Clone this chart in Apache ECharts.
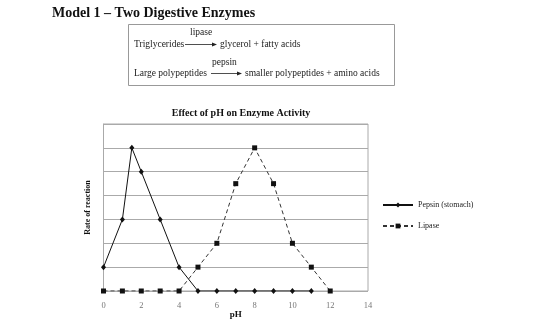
<!DOCTYPE html>
<html>
<head>
<meta charset="utf-8">
<script src="https://cdn.jsdelivr.net/npm/echarts@6/dist/echarts.min.js"></script>
<style>
  html, body { margin: 0; padding: 0; background: #fff; }
  #chart { width: 560px; height: 322px; }
</style>
</head>
<body>
<div id="chart"></div>
<script>
// data
var pepsinPH = [0, 1, 1.5, 2, 3, 4, 5, 6, 7, 8, 9, 10, 11];
var pepsinRate = [1, 3, 6, 5, 3, 1, 0, 0, 0, 0, 0, 0, 0];
var lipasePH = [0, 1, 2, 3, 4, 5, 6, 7, 8, 9, 10, 11, 12];
var lipaseRate = [0, 0, 0, 0, 0, 1, 2, 4.5, 6, 4.5, 2, 1, 0];

var seriesNames = ['Pepsin (stomach)', 'Lipase'];

var serif = '"Liberation Serif", "DejaVu Serif", serif';

function zip(xs, ys) {
  return xs.map(function (x, i) { return [x, ys[i]]; });
}

var chart = echarts.init(document.getElementById('chart'));

// header + reaction box (decoration)
var graphics = [
  { type: 'text', left: 52, top: 6,
    style: { text: 'Model 1 \u2013 Two Digestive Enzymes', font: 'bold 14px ' + serif, fill: '#111' } },
  { type: 'rect', shape: { x: 128.5, y: 24.5, width: 266, height: 61 },
    style: { fill: 'none', stroke: '#999', lineWidth: 1 } },
  { type: 'text', x: 134, y: 44, style: { text: 'Triglycerides', font: '9.5px ' + serif, fill: '#222', textVerticalAlign: 'middle' } },
  { type: 'text', x: 190, y: 32, style: { text: 'lipase', font: '9.5px ' + serif, fill: '#222', textVerticalAlign: 'middle' } },
  { type: 'line', shape: { x1: 185, y1: 44.5, x2: 214, y2: 44.5 }, style: { stroke: '#222', lineWidth: 0.8 } },
  { type: 'polygon', shape: { points: [[217, 44.5], [212, 42.5], [212, 46.5]] }, style: { fill: '#222' } },
  { type: 'text', x: 220, y: 44, style: { text: 'glycerol + fatty acids', font: '9.5px ' + serif, fill: '#222', textVerticalAlign: 'middle' } },
  { type: 'text', x: 134, y: 73, style: { text: 'Large polypeptides', font: '9.5px ' + serif, fill: '#222', textVerticalAlign: 'middle' } },
  { type: 'text', x: 212, y: 62, style: { text: 'pepsin', font: '9.5px ' + serif, fill: '#222', textVerticalAlign: 'middle' } },
  { type: 'line', shape: { x1: 211, y1: 73.5, x2: 239, y2: 73.5 }, style: { stroke: '#222', lineWidth: 0.8 } },
  { type: 'polygon', shape: { points: [[242, 73.5], [237, 71.5], [237, 75.5]] }, style: { fill: '#222' } },
  { type: 'text', x: 245, y: 73, style: { text: 'smaller polypeptides + amino acids', font: '9.5px ' + serif, fill: '#222', textVerticalAlign: 'middle' } }
];

var option = {
  animation: false,
  backgroundColor: '#fff',
  title: {
    text: 'Effect of pH on Enzyme Activity',
    left: 236,
    textAlign: 'center',
    top: 103,
    textStyle: { fontFamily: serif, fontWeight: 'bold', fontSize: 10, color: '#111' }
  },
  graphic: graphics,
  legend: {
    data: seriesNames,
    orient: 'vertical',
    left: 382,
    top: 201,
    padding: 0,
    itemWidth: 30,
    itemHeight: 6,
    itemGap: 13,
    textStyle: { fontFamily: serif, fontSize: 8, color: '#222' }
  },
  grid: {
    left: 103.5,
    right: 192,
    top: 124,
    bottom: 31,
    outerBoundsMode: 'none',
    show: true,
    borderColor: '#aaa',
    borderWidth: 1
  },
  xAxis: {
    type: 'value',
    min: 0,
    max: 14,
    interval: 2,
    name: 'pH',
    nameLocation: 'middle',
    nameGap: 24,
    nameMoveOverlap: false,
    nameTextStyle: { fontFamily: serif, fontWeight: 'bold', fontSize: 9, color: '#111', verticalAlign: 'middle' },
    axisLine: { show: false },
    axisTick: { show: false },
    splitLine: { show: false },
    axisLabel: { fontFamily: serif, fontSize: 8.5, color: '#777', margin: 10 }
  },
  yAxis: {
    type: 'value',
    min: 0,
    max: 7,
    interval: 1,
    name: 'Rate of reaction',
    nameLocation: 'middle',
    nameGap: 12,
    nameMoveOverlap: false,
    nameTextStyle: { fontFamily: serif, fontWeight: 'bold', fontSize: 8, color: '#111' },
    axisLine: { show: true, lineStyle: { color: '#aaa', width: 1 } },
    axisTick: { show: false },
    axisLabel: { show: false },
    splitLine: { show: true, lineStyle: { color: '#aaa', width: 1 } }
  },
  series: [
    {
      name: seriesNames[0],
      type: 'line',
      data: zip(pepsinPH, pepsinRate),
      symbol: 'diamond',
      symbolSize: [5, 6],
      itemStyle: { color: '#111' },
      lineStyle: { color: '#111', width: 1 },
      z: 3
    },
    {
      name: seriesNames[1],
      type: 'line',
      data: zip(lipasePH, lipaseRate),
      symbol: 'rect',
      symbolSize: 5,
      itemStyle: { color: '#111' },
      lineStyle: { color: '#333', width: 1, type: [4, 3] },
      z: 2
    }
  ]
};

chart.setOption(option);
</script>
</body>
</html>
